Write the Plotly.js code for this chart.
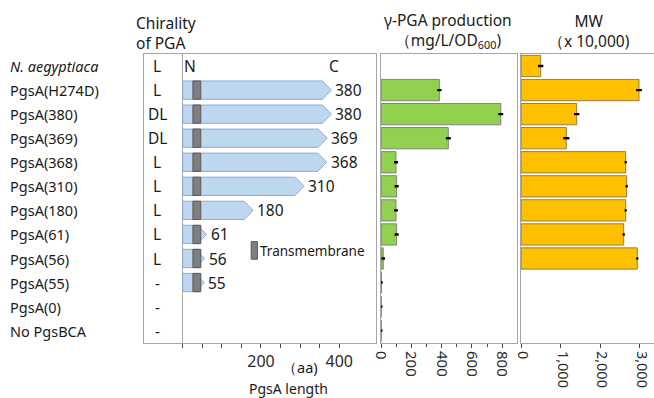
<!DOCTYPE html>
<html>
<head>
<meta charset="utf-8">
<script src="https://cdn.plot.ly/plotly-3.0.1.min.js"></script>
<style>html,body{margin:0;padding:0;background:#fff;}#chart{width:654px;height:398px;}</style>
</head>
<body>
<div id="chart"></div>
<script>
// ---- data ----
const categories = ['N. aegyptiaca','PgsA(H274D)','PgsA(380)','PgsA(369)','PgsA(368)','PgsA(310)','PgsA(180)','PgsA(61)','PgsA(56)','PgsA(55)','PgsA(0)','No PgsBCA'];
const chirality = ['L','L','DL','DL','L','L','L','L','L','-','-','-'];
const pgsaLength = [null,380,380,369,368,310,180,61,56,55,0,null];
const tmRegion = [26, 46];          // transmembrane segment (aa)
const mutationSite = [274];         // H274D
const mutationRow = ['PgsA(H274D)'];
const production = [null,385,790,444,99,103,99,103,15,2,1,1];
const productionErr = [0,7,9,9,6,6,6,6,4,2,2,2];
const mw = [498,2984,1408,1146,2647,2672,2647,2597,2941,null,null,null];
const mwErr = [40,45,40,50,0,0,0,0,0,0,0,0];
const lengthMinorTicks = [0,50,100,150,200,250,300,350,400];
const lengthTicks = [200,400];
const prodTicks = [0,200,400,600,800];
const mwTicks = [0,1000,2000,3000];

const idx = categories.map((c,i)=>i);
const W = 654, H = 398;
const FONT = 'Noto Sans, Open Sans, sans-serif';
const TXT = '#1a1a1a';
const FRAME = '#a6a6a6';

const traces = [];
traces.push({
  type:'bar', orientation:'h', y: idx, x: production, width:0.885,
  xaxis:'x2', yaxis:'y2',
  marker:{color:'#92D050', line:{color:'#6e6e6e', width:0.8}},
  error_x:{type:'data', array: productionErr, color:'#000', thickness:2.2, width:1.2},
  hoverinfo:'skip'
});
traces.push({
  type:'bar', orientation:'h', y: idx, x: mw, width:0.885,
  xaxis:'x3', yaxis:'y3',
  marker:{color:'#FFC000', line:{color:'#7a6a3a', width:0.8}},
  error_x:{type:'data', array: mwErr, color:'#000', thickness:2.2, width:1.2},
  hoverinfo:'skip'
});
traces.push({
  type:'scatter', mode:'markers', x: mutationSite, y: mutationRow.map(r=>categories.indexOf(r)),
  xaxis:'x', yaxis:'y',
  marker:{symbol:'star-6', size:9, color:'#000'}, hoverinfo:'skip'
});

const shapes = [];
const annotations = [];
const h = 0.38, tipMax = 23;
pgsaLength.forEach((L,i)=>{
  if (!L) return;
  const tip = Math.min(tipMax, L - tmRegion[1]);
  const th = h * Math.min(1, tip / tipMax);
  const b = L - tip;
  shapes.push({type:'path', xref:'x', yref:'y', layer:'above',
    path:`M0,${i-h} L${b},${i-h} L${b},${i-th} L${L},${i} L${b},${i+th} L${b},${i+h} L0,${i+h} Z`,
    fillcolor:'#BDD7EE', line:{color:'#8FAADC', width:1}});
  shapes.push({type:'rect', xref:'x', yref:'y', layer:'above',
    x0:tmRegion[0], x1:tmRegion[1], y0:i-h, y1:i+h,
    fillcolor:'#7F7F7F', line:{color:'#595959', width:1}});
  annotations.push({xref:'x', yref:'y', x:L, y:i, xanchor:'left', yanchor:'middle', xshift:2,
    text:String(L), showarrow:false, font:{size:15.5, color:TXT}});
});
// legend for transmembrane
shapes.push({type:'rect', xref:'x', yref:'y', layer:'above', x0:175, x1:191, y0:7.3, y1:8.03,
  fillcolor:'#7F7F7F', line:{color:'#595959', width:1}});
annotations.push({xref:'x', yref:'y', x:192, y:7.67, xanchor:'left', yanchor:'middle',
  text:'Transmembrane', showarrow:false, font:{size:13.5, color:TXT}});
// N / C labels
annotations.push({xref:'x', yref:'y', x:19, y:0, xanchor:'center', yanchor:'middle', text:'N', showarrow:false, font:{size:15.5, color:TXT}});
annotations.push({xref:'x', yref:'y', x:387, y:0, xanchor:'center', yanchor:'middle', text:'C', showarrow:false, font:{size:15.5, color:TXT}});
// chirality
chirality.forEach((c,i)=>{
  annotations.push({xref:'x', yref:'y', x:-65, y:i, xanchor:'center', yanchor:'middle',
    text:c, showarrow:false, font:{size:15.5, color:TXT}});
});
// category labels
categories.forEach((c,i)=>{
  annotations.push({xref:'paper', yref:'y', x:8/W, y:i, xanchor:'left', yanchor:'middle',
    text: i===0 ? '<i>'+c+'</i>' : c, showarrow:false, font:{size:14.5, color:TXT}});
});
// titles
const py = p => (H - p)/H, px = p => p/W;
annotations.push({xref:'paper', yref:'paper', x:px(134), y:py(32.5), xanchor:'left', yanchor:'middle', align:'left',
  text:'Chirality<br>of PGA', showarrow:false, font:{size:15.5, color:TXT}});
annotations.push({xref:'paper', yref:'paper', x:px(448), y:py(31), xanchor:'center', yanchor:'middle', align:'center',
  text:'γ-PGA production<br>（mg/L/OD<sub>600</sub>)', showarrow:false, font:{size:15.5, color:TXT}});
annotations.push({xref:'paper', yref:'paper', x:px(589), y:py(31), xanchor:'center', yanchor:'middle', align:'center',
  text:'MW<br>（x 10,000)', showarrow:false, font:{size:15.5, color:TXT}});
annotations.push({xref:'paper', yref:'paper', x:px(300), y:py(367), xanchor:'center', yanchor:'middle', borderpad:0,
  text:'（aa)', showarrow:false, font:{size:14.5, color:TXT}});
annotations.push({xref:'paper', yref:'paper', x:px(288), y:py(388.5), xanchor:'center', yanchor:'middle', borderpad:0,
  text:'PgsA length', showarrow:false, font:{size:14, color:TXT}});

const yBase = {domain:[55.3/H, 344/H], range:[11.5,-0.5], showticklabels:false, ticks:'',
  showline:true, mirror:true, linecolor:FRAME, linewidth:1.3, showgrid:false, zeroline:false, fixedrange:true};
const xBase = {showline:true, mirror:true, linecolor:FRAME, linewidth:1.3, showgrid:false, zeroline:false,
  ticks:'outside', ticklen:4, tickcolor:'#444', tickwidth:1, tickfont:{size:15, color:'#2b2b2b'},
  ticklabeloverflow:'allow'};

const layout = {
  width:W, height:H, margin:{l:0,r:0,t:0,b:0}, paper_bgcolor:'#fff', plot_bgcolor:'#fff',
  showlegend:false, font:{family:FONT, color:TXT}, bargap:0.1,
  xaxis: Object.assign({}, xBase, {domain:[144/W, 376/W], range:[-99,494], anchor:'y',
    tickmode:'array', tickvals:lengthTicks, tickfont:{size:16, color:'#2b2b2b'},
    minor:{tickmode:'array', tickvals:lengthMinorTicks, ticks:'outside', ticklen:4, tickcolor:'#444'},
    zeroline:true, zerolinecolor:FRAME, zerolinewidth:1.3}),
  xaxis2: Object.assign({}, xBase, {domain:[381/W, 516.7/W], range:[0,895], anchor:'y2',
    tickmode:'array', tickvals:prodTicks, tickangle:90,
    minor:{dtick:100, tick0:0, ticks:'outside', ticklen:3, tickcolor:'#444'}}),
  xaxis3: Object.assign({}, xBase, {domain:[521/W, 1], range:[0,3363], anchor:'y3',
    tickmode:'array', tickvals:mwTicks, tickformat:',d', tickangle:90, ticklabelshift:2,
    tickfont:{size:14.5, color:'#2b2b2b'}}),
  yaxis: Object.assign({}, yBase, {anchor:'x'}),
  yaxis2: Object.assign({}, yBase, {anchor:'x2'}),
  yaxis3: Object.assign({}, yBase, {anchor:'x3'}),
  shapes: shapes, annotations: annotations
};
Plotly.newPlot('chart', traces, layout, {staticPlot:true, displayModeBar:false});
</script>
</body>
</html>
